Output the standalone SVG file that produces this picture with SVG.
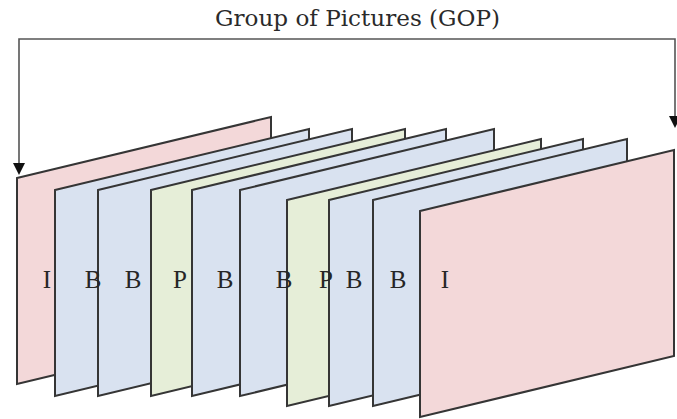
<svg xmlns="http://www.w3.org/2000/svg" width="677" height="419" viewBox="0 0 677 419">
<defs>
<style>
.f{stroke:#353535;stroke-width:2;stroke-linejoin:miter}
.i{fill:#f3d8d9}
.b{fill:#d9e2f0}
.p{fill:#e6eed8}
.lbl{font-family:"Liberation Serif","Times New Roman",serif;font-size:25px;fill:#262626;text-anchor:middle}
.ttl{font-family:"DejaVu Serif","Liberation Serif",serif;font-size:22px;fill:#2a2a2a}
.con{fill:none;stroke:#555;stroke-width:1.6}
</style>
<path id="frame" d="M0,0 L254,-61 L254,145 L0,206 Z"/>
</defs>
<rect width="677" height="419" fill="#fff"/>
<text class="ttl" x="215" y="26" textLength="285" lengthAdjust="spacingAndGlyphs">Group of Pictures (GOP)</text>
<g id="connectors">
<path class="con" d="M19,163 V39 H675 V116"/>
<path d="M13,163 L25,163 L19,175 Z" fill="#111"/>
<path d="M669,116 L681,116 L675,128 Z" fill="#111"/>
</g>
<g id="frame1"><use href="#frame" class="f i" x="17" y="178"/></g>
<g id="frame2"><use href="#frame" class="f b" x="55" y="190"/></g>
<g id="frame3"><use href="#frame" class="f b" x="98" y="190"/></g>
<g id="frame4"><use href="#frame" class="f p" x="151" y="190"/></g>
<g id="frame5"><use href="#frame" class="f b" x="192" y="190"/></g>
<g id="frame6"><use href="#frame" class="f b" x="240" y="190"/></g>
<g id="frame7"><use href="#frame" class="f p" x="287" y="200"/></g>
<g id="frame8"><use href="#frame" class="f b" x="329" y="200"/></g>
<g id="frame9"><use href="#frame" class="f b" x="373" y="200"/></g>
<g id="frame10"><use href="#frame" class="f i" x="420" y="211"/></g>
<g id="labels">
<text class="lbl" x="47" y="288">I</text>
<text class="lbl" x="93" y="288">B</text>
<text class="lbl" x="133" y="288">B</text>
<text class="lbl" x="180" y="288">P</text>
<text class="lbl" x="225" y="288">B</text>
<text class="lbl" x="284" y="288">B</text>
<text class="lbl" x="326" y="288">P</text>
<text class="lbl" x="354" y="288">B</text>
<text class="lbl" x="398" y="288">B</text>
<text class="lbl" x="445" y="288">I</text>
</g>
</svg>
